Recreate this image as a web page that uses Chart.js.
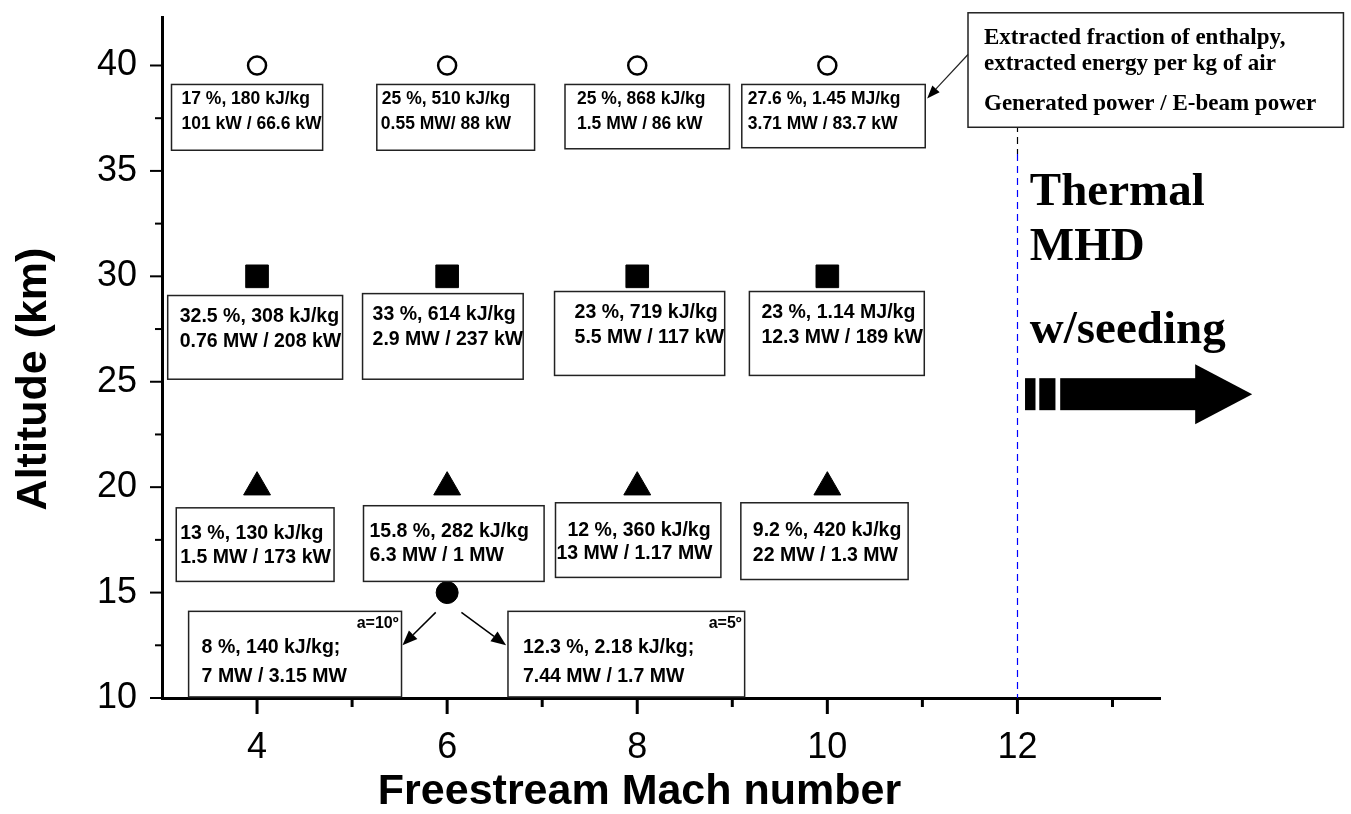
<!DOCTYPE html>
<html>
<head>
<meta charset="utf-8">
<script src="https://cdn.jsdelivr.net/npm/chart.js@4.4.0/dist/chart.umd.min.js"></script>
<style>
  html, body { margin: 0; padding: 0; background: #fff; }
</style>
</head>
<body>
<canvas id="myChart" width="1351" height="814"></canvas>
<script>
// --- data ---
let machNumbers = [4, 6, 8, 10];
let altitude40 = [40, 40, 40, 40];
let altitude30 = [30, 30, 30, 30];
let altitude20 = [20, 20, 20, 20];
let machLow = [6];
let altitudeLow = [15];
let thermalMach = 12;

let xTickValues = [4, 6, 8, 10, 12];
let xMinorTicks = [5, 7, 9, 11, 13];
let yTickValues = [10, 15, 20, 25, 30, 35, 40];
let yMinorTicks = [12.5, 17.5, 22.5, 27.5, 32.5, 37.5];

// box texts: first line = extracted fraction, energy per kg; second = generated / e-beam power
let texts40 = [
  ['17 %, 180 kJ/kg', '101 kW / 66.6 kW'],
  ['25 %, 510 kJ/kg', '0.55 MW/ 88 kW'],
  ['25 %, 868 kJ/kg', '1.5 MW / 86 kW'],
  ['27.6 %, 1.45 MJ/kg', '3.71 MW / 83.7 kW']
];
let texts30 = [
  ['32.5 %, 308 kJ/kg', '0.76 MW / 208 kW'],
  ['33 %, 614 kJ/kg', '2.9 MW / 237 kW'],
  ['23 %, 719 kJ/kg', '5.5 MW / 117 kW'],
  ['23 %, 1.14 MJ/kg', '12.3 MW / 189 kW']
];
let texts20 = [
  ['13 %, 130 kJ/kg', '1.5 MW / 173 kW'],
  ['15.8 %, 282 kJ/kg', '6.3 MW / 1 MW'],
  ['12 %, 360 kJ/kg', '13 MW / 1.17 MW'],
  ['9.2 %, 420 kJ/kg', '22 MW / 1.3 MW']
];
let texts15 = [
  ['8 %, 140 kJ/kg;', '7 MW / 3.15 MW'],
  ['12.3 %, 2.18 kJ/kg;', '7.44 MW / 1.7 MW']
];
let angleLabels = ['a=10º', 'a=5º'];
let legendLines = ['Extracted fraction of enthalpy,', 'extracted energy per kg of air', 'Generated power / E-beam power'];
let regimeLines = ['Thermal', 'MHD', 'w/seeding'];

// --- annotation layout (axis units for boxes, px for text offsets) ---
// [x0, x1, yTop, yBottom, line1 offset, line2 offset, pad1, pad2]
let boxes40 = [
  [3.10, 4.69, 39.10, 35.98, 15, 40, 10, 10],
  [5.26, 6.92, 39.10, 35.98, 15, 40, 5, 4],
  [7.24, 8.97, 39.10, 36.05, 15, 40, 12, 12],
  [9.10, 11.03, 39.10, 36.10, 15, 40, 6, 6]
];
let boxes30 = [
  [3.06, 4.90, 29.09, 25.12, 21, 46, 12, 12],
  [5.11, 6.80, 29.18, 25.12, 21, 46, 10, 10],
  [7.13, 8.92, 29.28, 25.30, 21, 46, 20, 20],
  [9.18, 11.02, 29.28, 25.30, 21, 46, 12, 12]
];
let boxes20 = [
  [3.15, 4.81, 19.02, 15.53, 26, 50, 4, 4],
  [5.12, 7.02, 19.12, 15.53, 26, 50, 6, 6],
  [7.14, 8.88, 19.26, 15.72, 28, 51, 12, 1],
  [9.09, 10.85, 19.26, 15.62, 28, 53, 12, 12]
];
let boxes15 = [
  [3.28, 5.52, 14.11, 10.05, 36, 65, 13, 13],
  [6.64, 9.13, 14.11, 10.05, 36, 65, 15, 15]
];

const sans = '"Liberation Sans", Arial, sans-serif';
const serif = '"Liberation Serif", "Times New Roman", serif';

function drawArrow(ctx, x0, y0, x1, y1, head, half) {
  const a = Math.atan2(y1 - y0, x1 - x0);
  const bx = x1 - Math.cos(a) * head, by = y1 - Math.sin(a) * head;
  ctx.beginPath();
  ctx.moveTo(x0, y0);
  ctx.lineTo(bx, by);
  ctx.stroke();
  ctx.beginPath();
  ctx.moveTo(x1, y1);
  ctx.lineTo(bx + Math.sin(a) * half, by - Math.cos(a) * half);
  ctx.lineTo(bx - Math.sin(a) * half, by + Math.cos(a) * half);
  ctx.closePath();
  ctx.fill();
}

const decorations = {
  id: 'decorations',
  beforeDatasetsDraw(chart) {
    const {ctx, chartArea} = chart;
    const ys = chart.scales.y;
    const x = Math.round(chart.scales.x.getPixelForValue(thermalMach)) + 0.5;
    const split = ys.getPixelForValue(35.8);
    ctx.save();
    ctx.lineWidth = 1.2;
    ctx.setLineDash([7, 5]);
    // upper part of the boundary is black, the rest blue
    ctx.strokeStyle = '#000';
    ctx.beginPath();
    ctx.moveTo(x, chartArea.top);
    ctx.lineTo(x, split);
    ctx.stroke();
    ctx.strokeStyle = '#0000ff';
    ctx.beginPath();
    ctx.moveTo(x, split);
    ctx.lineTo(x, chartArea.bottom);
    ctx.stroke();
    ctx.restore();
  },
  afterDraw(chart) {
    const {ctx, chartArea} = chart;
    const xs = chart.scales.x, ys = chart.scales.y;
    const X = v => xs.getPixelForValue(v);
    const Y = v => ys.getPixelForValue(v);
    ctx.save();

    // tick marks, outward
    ctx.strokeStyle = '#000';
    const tick = (x0, y0, x1, y1, w) => {
      ctx.lineWidth = w;
      ctx.beginPath(); ctx.moveTo(x0, y0); ctx.lineTo(x1, y1); ctx.stroke();
    };
    xTickValues.forEach(v => tick(X(v), chartArea.bottom, X(v), chartArea.bottom + 16, 3));
    xMinorTicks.forEach(v => tick(X(v), chartArea.bottom, X(v), chartArea.bottom + 9, 3));
    yTickValues.forEach(v => tick(chartArea.left, Y(v), chartArea.left - 12, Y(v), 2));
    yMinorTicks.forEach(v => tick(chartArea.left, Y(v), chartArea.left - 7, Y(v), 2));

    // value boxes
    const drawBoxes = (boxes, texts, size) => {
      boxes.forEach((b, i) => {
        const x0 = X(b[0]), x1 = X(b[1]), y0 = Y(b[2]), y1 = Y(b[3]);
        ctx.fillStyle = '#fff';
        ctx.fillRect(x0, y0, x1 - x0, y1 - y0);
        ctx.fillStyle = '#000';
        ctx.font = 'bold ' + size + 'px ' + sans;
        ctx.textBaseline = 'middle';
        ctx.textAlign = 'left';
        ctx.fillText(texts[i][0], x0 + b[6], y0 + b[4]);
        ctx.fillText(texts[i][1], x0 + b[7], y0 + b[5]);
        ctx.strokeStyle = '#222';
        ctx.lineWidth = 1.5;
        ctx.strokeRect(x0, y0, x1 - x0, y1 - y0);
      });
    };
    drawBoxes(boxes40, texts40, 17.5);
    drawBoxes(boxes30, texts30, 19.5);
    drawBoxes(boxes20, texts20, 19.5);
    drawBoxes(boxes15, texts15, 19.5);

    ctx.font = 'bold 16px ' + sans;
    ctx.textAlign = 'right';
    boxes15.forEach((b, i) => ctx.fillText(angleLabels[i], X(b[1]) - 3, Y(b[2]) + 12));

    // arrows from the Mach 6 / 15 km point to its two boxes
    ctx.strokeStyle = '#000';
    ctx.fillStyle = '#000';
    ctx.lineWidth = 1.5;
    drawArrow(ctx, X(5.88), Y(14.06), X(5.53), Y(12.50), 15, 6);
    drawArrow(ctx, X(6.15), Y(14.06), X(6.62), Y(12.50), 15, 6);

    // legend box explaining the box contents
    const lx0 = X(11.48), lx1 = X(15.43), ly0 = Y(42.50), ly1 = Y(37.07);
    ctx.fillStyle = '#fff';
    ctx.fillRect(lx0, ly0, lx1 - lx0, ly1 - ly0);
    ctx.strokeStyle = '#222';
    ctx.lineWidth = 1.5;
    ctx.strokeRect(lx0, ly0, lx1 - lx0, ly1 - ly0);
    ctx.fillStyle = '#000';
    ctx.font = 'bold 23px ' + serif;
    ctx.textAlign = 'left';
    ctx.textBaseline = 'alphabetic';
    [ly0 + 31, ly0 + 57, ly0 + 97].forEach((y, i) => ctx.fillText(legendLines[i], lx0 + 16, y));
    ctx.lineWidth = 1.2;
    drawArrow(ctx, lx0, Y(40.52), X(11.05), Y(38.44), 13, 5);

    // thermal MHD regime label and arrow
    ctx.font = 'bold 47px ' + serif;
    [33.39, 30.79, 26.82].forEach((v, i) => ctx.fillText(regimeLines[i], X(12.13), Y(v)));
    const ay = Y(24.41);
    ctx.fillRect(X(12.08), ay - 16, X(12.19) - X(12.08), 32);
    ctx.fillRect(X(12.23), ay - 16, X(12.40) - X(12.23), 32);
    ctx.fillRect(X(12.45), ay - 16, X(13.88) - X(12.45), 32);
    ctx.beginPath();
    ctx.moveTo(X(13.87), ay - 30);
    ctx.lineTo(X(14.47), ay);
    ctx.lineTo(X(13.87), ay + 30);
    ctx.closePath();
    ctx.fill();
    ctx.restore();
  }
};

const toPoints = (xs, ys) => xs.map((x, i) => ({x: x, y: ys[i]}));

const ctx = document.getElementById('myChart');
const myChart = new Chart(ctx, {
  type: 'scatter',
  data: {
    datasets: [
      {
        label: '40 km',
        data: toPoints(machNumbers, altitude40),
        pointStyle: 'circle',
        pointRadius: 9,
        backgroundColor: '#fff',
        borderColor: '#000',
        borderWidth: 2.5
      },
      {
        label: '30 km',
        data: toPoints(machNumbers, altitude30),
        pointStyle: 'rect',
        pointRadius: 16,
        backgroundColor: '#000',
        borderColor: '#000',
        borderWidth: 1
      },
      {
        label: '20 km',
        data: toPoints(machNumbers, altitude20),
        pointStyle: 'triangle',
        pointRadius: 15.5,
        backgroundColor: '#000',
        borderColor: '#000',
        borderWidth: 1
      },
      {
        label: '15 km',
        data: toPoints(machLow, altitudeLow),
        pointStyle: 'circle',
        pointRadius: 11,
        backgroundColor: '#000',
        borderColor: '#000',
        borderWidth: 1
      }
    ]
  },
  options: {
    responsive: false,
    animation: false,
    layout: { padding: { top: 15, right: 191, bottom: 0, left: 0 } },
    plugins: {
      legend: { display: false },
      tooltip: { enabled: false }
    },
    scales: {
      x: {
        type: 'linear',
        min: 3,
        max: 13.5,
        afterBuildTicks: scale => { scale.ticks = xTickValues.map(v => ({ value: v })); },
        afterFit: scale => { scale.height = 116; scale.paddingLeft = 0; scale.paddingRight = 0; },
        grid: { display: false, drawTicks: false },
        border: { display: true, color: '#000', width: 3 },
        ticks: {
          color: '#000',
          padding: 28,
          maxRotation: 0,
          font: { family: sans, size: 36 }
        },
        title: {
          display: true,
          text: 'Freestream Mach number\u2002\u2002',
          color: '#000',
          font: { family: sans, size: 43, weight: 'bold', lineHeight: 1 },
          padding: { top: 0, bottom: 0 }
        }
      },
      y: {
        type: 'linear',
        min: 10,
        max: 42.3,
        afterBuildTicks: scale => { scale.ticks = yTickValues.map(v => ({ value: v })); },
        afterFit: scale => { scale.width = 162; scale.paddingTop = 0; scale.paddingBottom = 0; },
        grid: { display: false, drawTicks: false },
        border: { display: true, color: '#000', width: 3 },
        ticks: {
          color: '#000',
          padding: 25,
          font: { family: sans, size: 36 }
        },
        title: {
          display: true,
          text: 'Altitude (km)\u2002\u2002',
          color: '#000',
          font: { family: sans, size: 43, weight: 'bold', lineHeight: 1.2 },
          padding: { top: 8, bottom: 0 }
        }
      }
    }
  },
  plugins: [decorations]
});
</script>
</body>
</html>
